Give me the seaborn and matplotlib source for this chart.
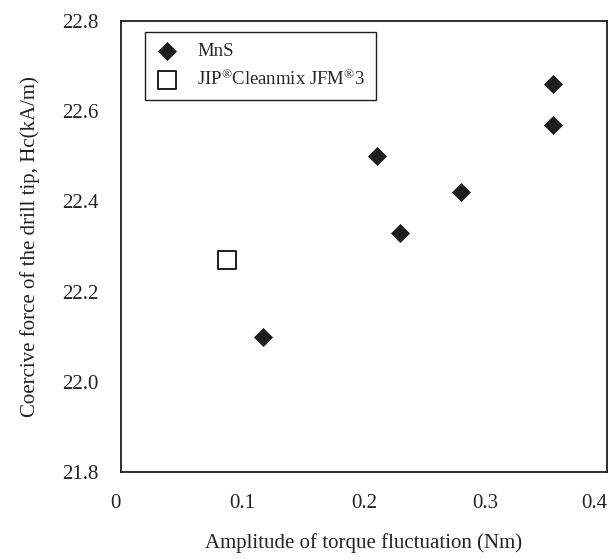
import matplotlib
matplotlib.use("Agg")
import matplotlib.pyplot as plt
import seaborn as sns
import pandas as pd

# MnS-added steel specimens
mns_amplitude = [0.117, 0.2105, 0.230, 0.280, 0.3555, 0.3555]
mns_coercive = [22.10, 22.50, 22.33, 22.42, 22.66, 22.57]

# JIP Cleanmix JFM3 specimen
jfm_amplitude = [0.0872]
jfm_coercive = [22.27]

x_ticks = [0, 0.1, 0.2, 0.3, 0.4]
x_tick_labels = ["0", "0.1", "0.2", "0.3", "0.4"]
y_ticks = [21.8, 22.0, 22.2, 22.4, 22.6, 22.8]
y_tick_labels = ["21.8", "22.0", "22.2", "22.4", "22.6", "22.8"]

sns.set_style("white")
plt.rcParams["font.family"] = ["Liberation Serif", "DejaVu Serif"]
plt.rcParams["mathtext.fontset"] = "custom"
plt.rcParams["mathtext.rm"] = "Liberation Serif"
plt.rcParams["mathtext.it"] = "Liberation Serif:italic"

mns = pd.DataFrame({"amp": mns_amplitude, "hc": mns_coercive})
jfm = pd.DataFrame({"amp": jfm_amplitude, "hc": jfm_coercive})

fig, ax = plt.subplots(figsize=(6.16, 5.59), dpi=100)
fig.subplots_adjust(left=121 / 616, right=607 / 616, top=1 - 21 / 559, bottom=1 - 472 / 559)

ink = "#1e1e1e"
text_col = "#222222"
sns.scatterplot(data=mns, x="amp", y="hc", marker="D", s=85, color=ink,
                edgecolor=ink, linewidth=0.5, ax=ax, label="MnS", zorder=3)
sns.scatterplot(data=jfm, x="amp", y="hc", marker="s", s=150, facecolor="white",
                edgecolor=ink, linewidth=1.4, ax=ax,
                label="JIP$^{®}$Cleanmix JFM$^{®}$3", zorder=3)

ax.set_xlim(0, 0.4)
ax.set_ylim(21.8, 22.8)
ax.set_xticks(x_ticks)
ax.set_xticklabels(x_tick_labels)
ax.set_yticks(y_ticks)
ax.set_yticklabels(y_tick_labels)

# end labels sit inside the axis span
xl = ax.get_xticklabels()
xl[0].set_ha("right")
xl[-1].set_ha("right")

ax.tick_params(axis="both", direction="in", length=7, width=1.0, color=ink,
               labelsize=15, labelcolor=text_col)
ax.tick_params(axis="y", pad=16)
ax.tick_params(axis="x", pad=16)

for sp in ax.spines.values():
    sp.set_visible(True)
    sp.set_color(ink)
    sp.set_linewidth(1.3)

ax.set_xlabel("Amplitude of torque fluctuation (Nm)", fontsize=15, color=text_col, labelpad=14)
ax.set_ylabel("Coercive force of the drill tip, Hc(kA/m)", fontsize=15, color=text_col, labelpad=16)

leg = ax.legend(loc="upper left", bbox_to_anchor=(0.049, 0.976), fontsize=13.5,
                frameon=True, fancybox=False, edgecolor=ink, framealpha=1,
                borderpad=0.6, labelspacing=0.5, handletextpad=1.0,
                handlelength=1.2, borderaxespad=0)
leg.get_frame().set_linewidth(1.0)

fig.savefig("out.png", dpi=100)
